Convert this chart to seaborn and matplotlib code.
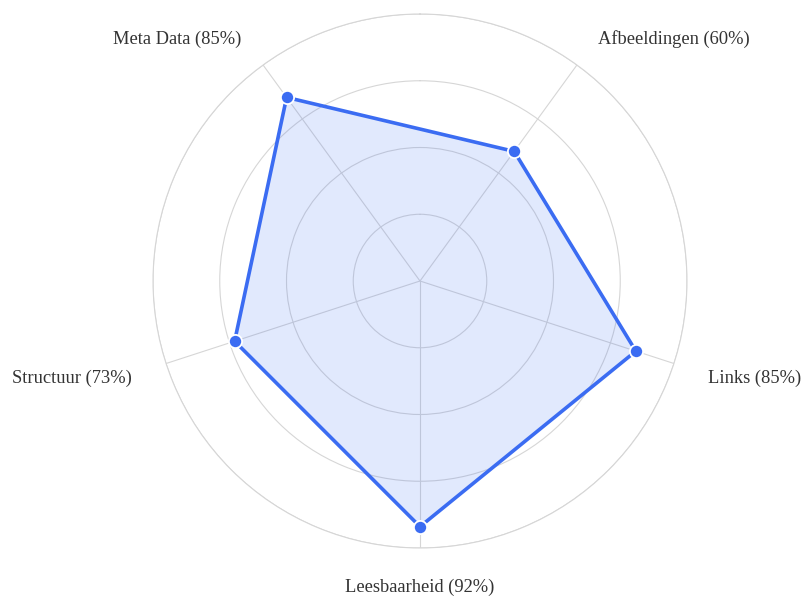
import numpy as np
import matplotlib
matplotlib.use("Agg")
import matplotlib.pyplot as plt
import matplotlib.transforms as mtransforms
import seaborn as sns

categories = ["Afbeeldingen", "Links", "Leesbaarheid", "Structuur", "Meta Data"]
scores = [60, 85, 92, 73, 85]
ring_ticks = [25, 50, 75, 100]

sns.set_theme(style="white")
plt.rcParams["font.family"] = ["Liberation Serif", "DejaVu Serif"]

line_color = "#3b6cf2"
grid_color = "#d6d6d6"

# angles clockwise from the top, first axis at 36 degrees
angles = np.deg2rad(36 + 72 * np.arange(len(categories)))
closed_angles = np.append(angles, angles[0] + 2 * np.pi)
closed_scores = np.append(scores, scores[0])

fig = plt.figure(figsize=(8.07, 5.99), dpi=100)
ax = fig.add_axes([153 / 807, 51 / 599, 534 / 807, 534 / 599], projection="polar")
ax.set_theta_zero_location("N")
ax.set_theta_direction(-1)
ax.set_ylim(0, 100)

ax.fill(closed_angles, closed_scores, color=line_color, alpha=0.15, lw=0, zorder=1)
sns.lineplot(x=closed_angles, y=closed_scores, ax=ax, sort=False, color=line_color,
             lw=2.6, zorder=3)
ax.plot(angles, scores, "o", color=line_color, ms=9.5, mec="white", mew=1.3, zorder=4)

ax.set_yticks(ring_ticks)
ax.set_yticklabels([])
ax.set_xticks(angles)
ax.set_xticklabels([])
ax.grid(True, color=grid_color, lw=0.8)
ax.spines["polar"].set_color(grid_color)
ax.spines["polar"].set_linewidth(0.8)
ax.set_axisbelow(True)

# nudge labels a few pixels down
label_trans = mtransforms.offset_copy(ax.transData, fig=fig, x=0, y=-3.5, units="dots")
for ang, cat, val in zip(angles, categories, scores):
    s = np.sin(ang)
    if abs(s) < 0.1:
        ha = "center"
    elif s > 0:
        ha = "left"
    else:
        ha = "right"
    ax.text(ang, 113.5, f"{cat} ({val}%)", ha=ha, va="center", fontsize=13.3,
            color="#333333", transform=label_trans)

fig.savefig("out.png", dpi=100)
